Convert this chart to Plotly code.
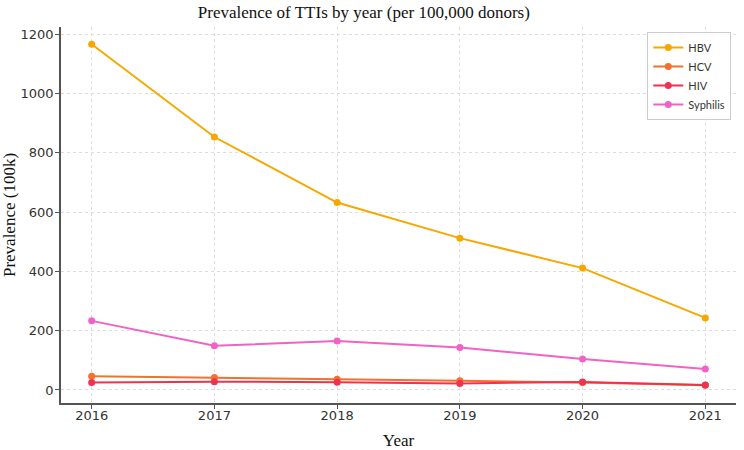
import plotly.graph_objects as go

years = [2016, 2017, 2018, 2019, 2020, 2021]
hbv = [1166, 853, 632, 512, 411, 243]
hcv = [46, 42, 36, 31, 25, 16]
hiv = [25, 28, 26, 22, 27, 17]
syphilis = [233, 149, 165, 143, 104, 71]

series = [
    ("HBV", hbv, "#F7A800"),
    ("HCV", hcv, "#F4702C"),
    ("HIV", hiv, "#EE3350"),
    ("Syphilis", syphilis, "#F062C6"),
]

fig = go.Figure()
for name, vals, col in series:
    fig.add_trace(go.Scatter(
        x=years, y=vals, name=name, mode="lines+markers",
        line=dict(color=col, width=2), marker=dict(color=col, size=7),
    ))

axis_common = dict(
    showline=True, linecolor="#555555", linewidth=1.5, mirror=False,
    ticks="outside", ticklen=4, tickcolor="#555555", tickwidth=1,
    showgrid=True, gridcolor="#dddddd", griddash="dot", gridwidth=1,
    zeroline=False, automargin=False,
    tickfont=dict(family="DejaVu Sans", size=13, color="#333333"),
)

fig.update_layout(
    width=744, height=450,
    margin=dict(l=61, r=8, t=27, b=47),
    paper_bgcolor="white", plot_bgcolor="white",
    title=dict(text="Prevalence of TTIs by year (per 100,000 donors)",
               x=0.489, xanchor="center", y=0.973, yanchor="middle",
               font=dict(family="Liberation Serif", size=17, color="#111111")),
    xaxis=dict(axis_common, range=[2015.75, 2021.25], tickvals=years,
               ticklabelstandoff=-4,
               title=dict(text="Year", standoff=14,
                          font=dict(family="Liberation Serif", size=17, color="#111111"))),
    yaxis=dict(axis_common, range=[-44, 1224], tickvals=[0, 200, 400, 600, 800, 1000, 1200],
               ticklabelstandoff=-1,
               title=dict(text="Prevalence (100k)", standoff=8,
                          font=dict(family="Liberation Serif", size=17, color="#111111"))),
    legend=dict(x=0.993, y=0.987, xanchor="right", yanchor="top",
                bgcolor="rgba(255,255,255,0.9)", bordercolor="#cccccc", borderwidth=1,
                font=dict(family="Lato", size=11, color="#333333"),
                itemwidth=30, tracegroupgap=0),
    showlegend=True,
)

fig.write_html("out.html")
